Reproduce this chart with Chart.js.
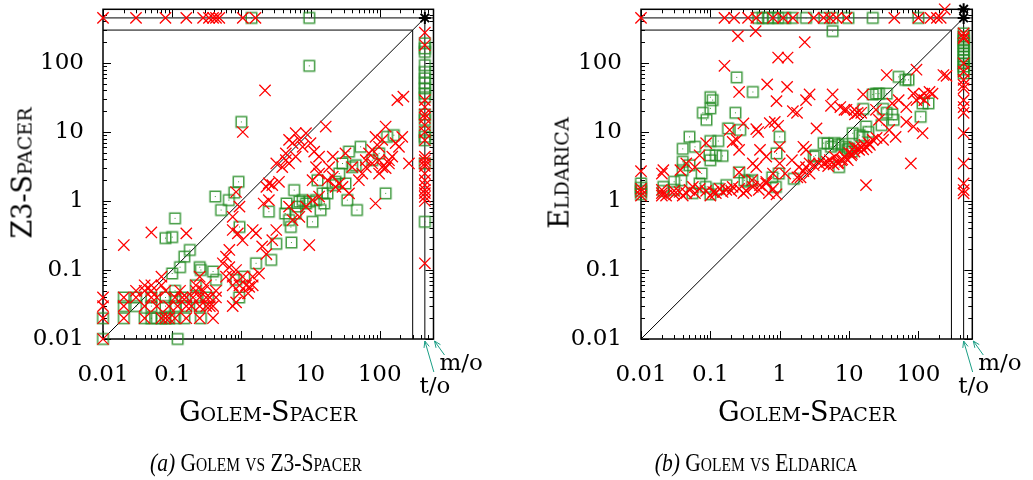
<!DOCTYPE html>
<html>
<head>
<meta charset="utf-8">
<script src="https://cdn.jsdelivr.net/npm/chart.js@4.4.1/dist/chart.umd.min.js"></script>
<style>
  body { margin: 0; width: 1033px; height: 480px; background: #fff; position: relative; overflow: hidden; }
  canvas { position: absolute; top: 0; }
  .ttl { position: absolute; font-family: "DejaVu Serif"; font-variant: small-caps; font-size: 27px; color: #000; white-space: nowrap; transform: translate(-50%, -50%); }
  .ttl.rot { transform: translate(-50%, -50%) rotate(-90deg); }
  .cap { position: absolute; font-family: "Liberation Serif"; font-variant: small-caps; font-size: 25px; color: #000; white-space: nowrap; transform: translate(-50%, -50%) scaleX(0.86); }
  .cap i { font-variant: normal; }
</style>
</head>
<body>
<canvas id="chartA" width="517" height="480" style="left:0"></canvas>
<canvas id="chartB" width="516" height="480" style="left:517px"></canvas>
<div class="ttl rot" style="left:22px; top:173px">Z3-Spacer</div>
<div class="ttl rot" style="left:559px; top:173px">Eldarica</div>
<div class="ttl" style="left:268px; top:411px">Golem-Spacer</div>
<div class="ttl" style="left:807px; top:411px">Golem-Spacer</div>
<div class="cap" style="left:256px; top:463px"><i>(a)</i> Golem vs Z3-Spacer</div>
<div class="cap" style="left:756px; top:463px"><i>(b)</i> Golem vs Eldarica</div>
<script>
// runtimes in seconds, t/o and m/o are plotted on their own row / column
const TO = 450;
const MO = 600;
const tickValues = [0.01, 0.1, 1, 10, 100];
const tickLabels = ["0.01", "0.1", "1", "10", "100"];

// (a) Golem vs Z3-Spacer
const z3Cross = [
  [0.01,TO],[0.03,TO],[0.08,TO],[0.16,TO],[0.28,TO],[0.34,TO],[0.39,TO],[0.43,TO],[0.48,TO],[1.05,TO],[1.6,TO],
  [TO,275],[TO,182],[TO,29],[TO,23],[TO,18],[TO,16],[TO,12.6],[TO,10],[TO,7.6],[TO,4.4],[TO,3.9],[TO,3.5],[TO,3.2],
  [TO,2.5],[TO,2],[TO,1.7],[TO,1.45],[TO,1.3],[TO,1.15],[TO,1.0],[TO,0.125],
  [2.2,40],[1.05,10],[0.02,0.23],[0.05,0.35],[0.16,0.34],[0.84,1.35],[0.94,0.83],[0.75,0.59],[0.01,0.01],
  [0.01,0.02],[0.02,0.02],[0.04,0.02],[0.07,0.02],[0.08,0.02],[0.09,0.02],[0.11,0.02],[0.16,0.02],[0.25,0.02],[0.39,0.02],
  [0.01,0.03],[0.02,0.03],[0.04,0.03],[0.06,0.03],[0.09,0.03],[0.12,0.03],[0.16,0.03],[0.19,0.03],[0.25,0.03],[0.31,0.03],[0.35,0.03],[0.39,0.03],
  [0.01,0.04],[0.02,0.04],[0.03,0.04],[0.05,0.04],[0.06,0.04],[0.11,0.04],[0.14,0.04],[0.16,0.04],[0.2,0.04],[0.25,0.04],[0.31,0.04],[0.35,0.04],[0.43,0.04],
  [0.03,0.05],[0.04,0.05],[0.05,0.05],[0.08,0.05],[0.13,0.05],[0.22,0.05],[0.28,0.05],[0.43,0.05],
  [0.04,0.06],[0.05,0.06],[0.07,0.06],[0.22,0.06],[0.31,0.06],[0.75,0.06],[0.94,0.06],[1.17,0.06],[1.46,0.06],
  [0.07,0.08],[0.25,0.08],[0.6,0.08],[0.75,0.08],[1.04,0.08],
  [0.75,0.03],[0.84,0.034],[0.94,0.046],[1.25,0.046],[1.3,0.057],[1.46,0.08],[1.8,0.089],[0.54,0.125],[0.67,0.11],
  [0.84,0.1],[0.6,0.156],[0.67,0.195],[0.75,0.38],[0.89,0.34],[1.04,0.27],[1.46,0.38],[1.63,0.34],[2.0,0.22],
  [2.3,0.17],[2.8,0.27],[3.2,0.38],[2.1,0.92],[2.5,1.03],[2.3,1.6],[2.5,1.8],[2.8,1.7],[3.5,1.9],[3.9,3.1],
  [4.9,3.5],[6.1,4.4],[4.4,4.9],[5.5,6.9],[6.9,7.7],[7.7,6.1],[8.6,9.6],[10,6.9],[11.3,5.2],[13.3,4.4],[16.6,12],
  [9.6,0.23],[5.5,0.53],[4.9,0.83],[6.9,0.59],[8.6,0.83],[10.7,1.03],[13.3,1.16],[17.6,2.0],[21,2.25],[23,1.6],
  [26,1.8],[29,1.6],[36,1.29],[50,2.0],[63,3.1],[70,4.9],[78,5.5],[87,8.5],[98,6.1],[109,7.7],[122,12],[136,3.5],
  [152,4.4],[170,6.9],[190,6.1],[212,8.5],[180,29],[220,32.5],[87,0.92],[265,3.5],[40,3.1],[56,2.5],[21,4.4],
  [32,4.9],[13.3,2.5],[12,3.1],[10.7,2.0],[18.6,3.1],[63,3.9],[78,3.5],[98,3.9],[109,3.1],[136,3.9],[98,2.5],
  [122,3.0],[6.1,9.6],[4.9,7.7],[3.2,3.5],[4.4,3.9]
];
const z3Square = [
  [1.4,TO],[9.6,TO],
  [TO,193],[TO,163],[TO,145],[TO,93],[TO,74],[TO,60],[TO,51],[TO,43],[TO,36],[TO,32],[TO,18],[TO,15],[TO,10],
  [TO,8.5],[TO,7.6],[TO,3.5],[TO,0.5],
  [9.6,91],[1.0,14],[0.11,0.56],[0.08,0.29],[0.1,0.3],[0.42,1.16],[0.51,0.74],[0.66,1.03],[0.79,1.32],[0.91,1.9],
  [0.94,0.42],[0.18,0.195],[0.15,0.156],[0.13,0.11],[0.1,0.089],[0.25,0.11],[0.26,0.1],[0.39,0.095],[0.43,0.072],
  [0.93,0.04],[0.84,0.072],[1.1,0.08],[0.12,0.01],[0.01,0.01],[0.01,0.02],
  [0.02,0.02],[0.04,0.02],[0.05,0.02],[0.06,0.02],[0.07,0.02],[0.08,0.02],[0.09,0.02],[0.11,0.02],[0.15,0.02],[0.26,0.02],
  [0.02,0.03],[0.03,0.03],[0.05,0.03],[0.08,0.03],[0.11,0.03],[0.16,0.03],[0.25,0.03],
  [0.02,0.04],[0.03,0.04],[0.05,0.04],[0.08,0.04],[0.11,0.04],[0.14,0.04],[0.22,0.04],[0.33,0.04],
  [0.22,0.06],[0.11,0.05],
  [2.5,0.7],[3.2,0.24],[2.7,0.14],[1.63,0.125],[5.3,0.25],[4.3,0.66],[4.5,0.92],[4.9,0.53],[5.2,0.42],[5.8,1.44],
  [6.1,0.66],[6.5,0.83],[6.9,0.98],[7.7,1.03],[8.6,0.92],[9.6,0.98],[10.7,0.5],[12,1.03],[12.6,2.0],[14,0.74],
  [15,1.29],[15.8,0.92],[17.6,1.29],[21,1.7],[23,1.9],[26,2.5],[29,3.5],[32,1.8],[34,1.03],[47,0.74],[36,5.2],
  [40,3.1],[45,3.3],[53,6.1],[78,3.9],[98,4.9],[122,1.29],[128,8.5],[160,9]
];
const z3Star = [[TO, TO]];

// (b) Golem vs Eldarica
const eldCross = [
  [0.01,TO],[0.16,TO],[0.22,TO],[0.35,TO],[0.46,TO],[0.8,TO],[1.12,TO],[1.55,TO],[3.1,TO],[4.3,TO],[5.3,TO],[6.6,TO],
  [9.2,TO],[45,TO],[100,TO],[150,TO],[185,TO],[210,TO],[240,MO],
  [TO,269],[TO,240],[TO,227],[TO,99],[TO,75],[TO,57],[TO,48],[TO,43],[TO,29],[TO,23],[TO,19],[TO,9.6],[TO,3.5],
  [TO,1.8],[TO,1.44],[TO,1.29],
  [0.01,1.2],[0.01,1.35],[0.01,1.5],[0.01,2.7],
  [0.02,1.3],[0.023,1.2],[0.03,1.25],[0.036,1.35],[0.045,1.3],[0.056,1.6],[0.07,1.5],[0.087,1.4],[0.11,1.35],
  [0.137,1.5],[0.17,1.45],[0.21,1.6],[0.26,1.5],[0.33,1.4],[0.41,1.6],[0.52,1.7],[0.64,1.8],[0.8,1.5],
  [0.02,1.2],[0.02,1.45],[0.03,1.4],[0.04,1.2],[0.05,1.45],[0.06,1.3],[0.1,1.2],[0.12,1.3],[0.15,1.35],[0.2,1.4],
  [0.3,1.3],[0.5,1.45],[0.7,1.3],[0.9,1.25],
  [0.02,2.5],[0.021,2.8],[0.037,2.8],[0.045,3.5],[0.06,3.1],[0.26,2.6],[0.4,2.0],[0.64,1.9],[0.8,2.5],
  [0.25,245],[0.45,290],[0.16,91],[0.95,120],[1.3,120],[2.3,200],[0.66,49],[1.28,45],[0.26,38],[0.9,28],[2.7,35],
  [2.4,29],[1.55,20],[1.78,19],[5.8,35],[5.5,24],[9.2,21],[12.2,18],[16,35],[3.4,11.3],[0.49,10],[0.46,11],
  [0.3,13.3],[0.19,10.7],[0.24,7.7],[0.26,5.5],[0.52,5.5],[0.64,4.4],[0.72,13.4],[0.85,14],[0.95,12.3],[1.0,6.1],
  [0.087,6.9],[0.07,4.6],[0.21,7.2],[0.41,3.5],[0.46,3.1],[2.4,5.5],[2.2,6.1],[1.9,3.1],[2.7,2.5],[2.0,2.2],
  [1.0,3.5],[1.2,2.5],[1.5,3.9],
  [4.3,3.5],[4.8,3.7],[5.3,3.9],[6.2,4.4],[6.9,3.5],[7.7,3.9],[8.6,4.4],[9.6,3.9],[10.7,4.6],[12,5.2],[13.3,5.8],
  [15,6.1],[16.6,6.5],[19.3,6.9],[22,7.7],[25,8.2],[3.1,3.3],[8.6,21],[13.3,19],[17.6,1.7],[35,67],
  [94,80],[230,67],[255,65],[78,3.5],[115,9.6],[85,12],[67,14],[47,8.5],[38,10.7],[31,7.7],[27,15],[24.5,21],
  [42,26],[85,36],[105,32],[122,36],[145,38],[160,36],[122,29],[94,29],[67,23],[15,19],[12,21],[7.5,23],[52,29],
  [1.8,2.2],[2.2,2.7],[2.4,3.1],[2.7,3.5],[3.7,3.5],
  [5,3.2],[6,3.4],[7,3.6],[8,4],[9,4.2],[11,4.8],[14,5.5],[18,6],[20,6.5],[12,6],[16,5.6],[10,5]
];
const eldSquare = [
  [0.49,TO],[0.57,TO],[0.68,TO],[0.8,TO],[0.95,TO],[1.2,TO],[1.5,TO],[2.4,TO],[4.4,TO],[5.8,TO],[9.8,TO],[22,TO],
  [100,TO],[5.8,290],
  [TO,269],[TO,240],[TO,213],[TO,193],[TO,174],[TO,156],[TO,138],[TO,124],[TO,110],[TO,99],[TO,89],[TO,80],[TO,71],
  [0.01,1.25],[0.01,1.4],[0.01,1.55],[0.01,1.8],
  [0.021,1.6],[0.021,1.4],[0.03,1.9],[0.03,1.45],[0.038,2.0],[0.055,1.3],[0.07,1.8],[0.086,1.6],[0.1,1.25],
  [0.13,1.5],[0.17,1.7],[0.26,2.6],[0.31,2.0],[0.35,1.9],[0.4,2.0],[0.78,2.2],[0.88,1.6],[0.97,2.5],[1.6,2.1],
  [0.24,62],[0.41,38],[0.1,32],[0.108,29],[0.078,19],[0.1,22],[0.088,15],[0.23,19],[0.18,11.3],[0.27,10.7],
  [0.05,8.5],[0.06,6.1],[0.04,5.7],[0.04,3.7],[0.04,2.8],[0.05,3.3],[0.1,7.4],[0.13,7.4],[0.097,4.6],[0.12,4.6],
  [0.15,4.5],[0.1,3.9],[1.0,8.5],[0.9,4.9],[0.075,2.5],
  [4.3,6.9],[4.9,6.8],[5.5,6.1],[6.2,6.9],[7.0,6.5],[8.0,6.7],[9.0,6.1],[10.1,5.8],[11.3,9.6],[14.2,9.0],
  [15.5,8.5],[17.6,12],[19,10],[16,21.6],[22,35],[24.5,36],[27,36],[35,36],[31,21.6],[35,19],[42,18],[44,15],
  [29.5,12.6],[52,63],[65,57],[72,57],[108,16.6],[115,26],[140,26],[7.2,3.1],[3.1,4.4],[3.3,4.6],[9.5,5.5],[11,5.2]
];
const eldStar = [[TO, TO], [TO, MO]];

// open green square with a dot in the middle, like the gnuplot marker
const squareMark = document.createElement("canvas");
squareMark.width = 15;
squareMark.height = 15;
(function () {
  const g = squareMark.getContext("2d");
  g.strokeStyle = "rgba(34,139,34,0.85)";
  g.lineWidth = 1.5;
  g.strokeRect(2.25, 2.25, 10.5, 10.5);
  g.fillStyle = "rgba(34,139,34,0.9)";
  g.fillRect(7, 7, 1, 1);
})();

const toPoints = (pairs) => pairs.map(([x, y]) => ({ x, y }));

function line(ctx, x1, y1, x2, y2) {
  ctx.beginPath();
  ctx.moveTo(x1, y1);
  ctx.lineTo(x2, y2);
  ctx.stroke();
}

function arrow(ctx, x1, y1, x2, y2) {
  line(ctx, x1, y1, x2, y2);
  const ang = Math.atan2(y2 - y1, x2 - x1);
  for (const s of [-0.4, 0.4]) {
    line(ctx, x2, y2, x2 - 7 * Math.cos(ang + s), y2 - 7 * Math.sin(ang + s));
  }
}

const framePlugin = {
  id: "frame",
  beforeDatasetsDraw(chart) {
    const { ctx, chartArea: a, scales: { x, y } } = chart;
    ctx.save();
    ctx.strokeStyle = "#000";
    ctx.lineWidth = 1;
    // diagonal, the 300 s box and the t/o lines
    line(ctx, x.getPixelForValue(0.01), y.getPixelForValue(0.01), x.getPixelForValue(TO), y.getPixelForValue(TO));
    const x300 = x.getPixelForValue(300), y300 = y.getPixelForValue(300);
    line(ctx, x300, a.bottom, x300, y300);
    line(ctx, a.left, y300, x300, y300);
    const xTO = x.getPixelForValue(TO), yTO = y.getPixelForValue(TO);
    line(ctx, xTO, a.bottom, xTO, a.top);
    line(ctx, a.left, yTO, a.right, yTO);
    // inward ticks on all four sides
    for (const d of tickValues) {
      for (let k = 1; k <= 9; k++) {
        const v = d * k;
        if (v >= MO) break;
        const len = k === 1 ? 8 : 4;
        const px = Math.round(x.getPixelForValue(v)) + 0.5;
        const py = Math.round(y.getPixelForValue(v)) + 0.5;
        line(ctx, px, a.bottom, px, a.bottom - len);
        line(ctx, px, a.top, px, a.top + len);
        line(ctx, a.left, py, a.left + len, py);
        line(ctx, a.right, py, a.right - len, py);
      }
    }
    ctx.lineWidth = 1.5;
    ctx.strokeRect(a.left, a.top, a.right - a.left, a.bottom - a.top);
    ctx.restore();
  },
  afterDraw(chart) {
    const { ctx, chartArea: a, scales: { x } } = chart;
    const xTO = x.getPixelForValue(TO);
    ctx.save();
    ctx.strokeStyle = "#1a9e85";
    ctx.lineWidth = 1;
    arrow(ctx, xTO + 9, a.bottom + 33, xTO, a.bottom + 2);
    arrow(ctx, a.right + 11, a.bottom + 16, a.right + 1, a.bottom + 2);
    ctx.fillStyle = "#000";
    ctx.font = '23px "DejaVu Serif"';
    ctx.textAlign = "center";
    ctx.fillText("t/o", xTO + 10, a.bottom + 54);
    ctx.textAlign = "left";
    ctx.fillText("m/o", a.right + 6, a.bottom + 31);
    ctx.restore();
  }
};

function logAxis(fitFn) {
  return {
    type: "logarithmic",
    min: 0.01,
    max: MO,
    afterBuildTicks: (s) => { s.ticks = tickValues.map((v) => ({ value: v })); },
    afterFit: (s) => {
      // keep the plot box fixed: no extra room for half labels
      s.paddingTop = 0; s.paddingBottom = 0; s.paddingLeft = 0; s.paddingRight = 0;
      fitFn(s);
    },
    grid: { display: false, drawTicks: false },
    border: { display: false },
    ticks: {
      autoSkip: false,
      maxRotation: 0,
      color: "#000",
      font: { family: "DejaVu Serif", size: 23 },
      callback: (v, i) => tickLabels[i]
    }
  };
}

function makeChart(id, cross, square, star, yWidth, padRight) {
  const xAxis = logAxis((s) => { s.height = 141; });
  xAxis.ticks.padding = 22;
  const yAxis = logAxis((s) => { s.width = yWidth; });
  yAxis.ticks.padding = 19;
  return new Chart(document.getElementById(id), {
    type: "scatter",
    data: {
      datasets: [
        { data: toPoints(star), pointStyle: "star", radius: 6, borderColor: "#000", borderWidth: 2, clip: false },
        { data: toPoints(cross), pointStyle: "crossRot", radius: 8, borderColor: "#ff0000", borderWidth: 1.3, clip: false },
        { data: toPoints(square), pointStyle: squareMark, clip: false }
      ]
    },
    options: {
      responsive: false,
      animation: false,
      events: [],
      layout: { padding: { left: 0, top: 8, right: padRight, bottom: 0 } },
      plugins: { legend: { display: false }, tooltip: { enabled: false } },
      scales: { x: xAxis, y: yAxis }
    },
    plugins: [framePlugin]
  });
}

makeChart("chartA", z3Cross, z3Square, z3Star, 103, 83.5);
makeChart("chartB", eldCross, eldSquare, eldStar, 124, 60.7);
</script>
</body>
</html>
